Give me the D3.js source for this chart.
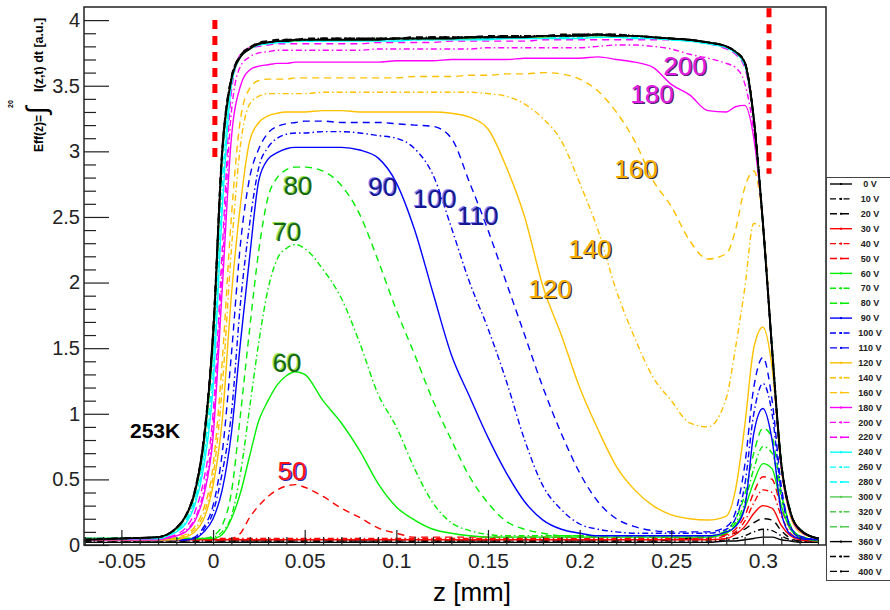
<!DOCTYPE html>
<html>
<head>
<meta charset="utf-8">
<script src="https://cdn.jsdelivr.net/npm/d3@7"></script>
<style>
  body { margin: 0; background: #fff; }
  svg { display: block; }
  text { font-family: "Liberation Sans", Arial, sans-serif; }
</style>
</head>
<body>
<div id="chart"></div>
<script>
var zGrid = [-0.07, -0.05, -0.03, -0.025, -0.02, -0.015, -0.01, -0.005, 0, 0.005,
  0.01, 0.015, 0.02, 0.025, 0.03, 0.035, 0.04, 0.045, 0.05, 0.06,
  0.07, 0.08, 0.09, 0.10, 0.11, 0.12, 0.13, 0.14, 0.15, 0.16,
  0.17, 0.18, 0.19, 0.20, 0.21, 0.22, 0.23, 0.24, 0.25, 0.26,
  0.27, 0.28, 0.285, 0.29, 0.295, 0.30, 0.305, 0.31, 0.315, 0.32,
  0.33];

var s0V = [0.02,0.02,0.02,0.02,0.02,0.02,0.02,0.02,0.02,0.02,
  0.02,0.02,0.02,0.02,0.02,0.02,0.02,0.02,0.02,0.02,
  0.02,0.02,0.02,0.02,0.02,0.02,0.02,0.02,0.02,0.02,
  0.02,0.02,0.02,0.02,0.02,0.02,0.02,0.02,0.02,0.02,
  0.02,0.03,0.03,0.04,0.05,0.06,0.06,0.04,0.03,0.02,
  0.02];
var s10V = [0.03,0.03,0.03,0.03,0.03,0.03,0.03,0.03,0.03,0.03,
  0.03,0.03,0.03,0.03,0.03,0.03,0.03,0.03,0.03,0.03,
  0.03,0.03,0.03,0.03,0.03,0.03,0.03,0.03,0.03,0.03,
  0.03,0.03,0.03,0.03,0.03,0.03,0.03,0.03,0.03,0.03,
  0.03,0.04,0.05,0.07,0.10,0.12,0.11,0.07,0.04,0.03,
  0.03];
var s20V = [0.03,0.03,0.03,0.03,0.03,0.03,0.03,0.03,0.03,0.03,
  0.03,0.03,0.03,0.03,0.03,0.03,0.03,0.03,0.03,0.03,
  0.03,0.03,0.03,0.03,0.03,0.03,0.03,0.03,0.03,0.03,
  0.03,0.03,0.03,0.03,0.03,0.03,0.03,0.03,0.04,0.05,
  0.06,0.08,0.09,0.12,0.17,0.20,0.19,0.11,0.05,0.03,
  0.03];
var s30V = [0.04,0.04,0.04,0.04,0.04,0.04,0.04,0.04,0.04,0.04,
  0.04,0.04,0.04,0.04,0.04,0.04,0.04,0.04,0.04,0.04,
  0.04,0.04,0.04,0.04,0.04,0.04,0.04,0.04,0.04,0.04,
  0.04,0.04,0.04,0.04,0.04,0.04,0.04,0.04,0.04,0.04,
  0.04,0.05,0.08,0.14,0.24,0.30,0.28,0.15,0.07,0.04,
  0.03];
var s40V = [0.05,0.05,0.05,0.05,0.05,0.05,0.05,0.05,0.05,0.05,
  0.05,0.05,0.05,0.05,0.05,0.05,0.05,0.05,0.05,0.05,
  0.05,0.05,0.05,0.05,0.05,0.05,0.05,0.05,0.05,0.05,
  0.05,0.05,0.05,0.05,0.05,0.05,0.05,0.05,0.05,0.05,
  0.05,0.07,0.10,0.18,0.32,0.42,0.40,0.22,0.09,0.05,
  0.03];
var s50V = [0.04,0.04,0.04,0.04,0.04,0.04,0.04,0.04,0.04,0.04,
  0.05,0.09,0.21,0.30,0.37,0.42,0.45,0.46,0.44,0.37,
  0.28,0.21,0.13,0.09,0.06,0.06,0.06,0.06,0.06,0.06,
  0.06,0.06,0.06,0.06,0.06,0.06,0.06,0.06,0.06,0.06,
  0.06,0.08,0.12,0.22,0.40,0.52,0.50,0.28,0.12,0.06,
  0.03];
var s60V = [0.05,0.05,0.05,0.05,0.05,0.05,0.05,0.05,0.05,0.08,
  0.20,0.40,0.68,0.95,1.10,1.22,1.29,1.32,1.30,1.10,
  0.93,0.72,0.47,0.29,0.19,0.12,0.09,0.07,0.06,0.06,
  0.06,0.06,0.06,0.06,0.06,0.06,0.06,0.06,0.06,0.06,
  0.06,0.09,0.15,0.28,0.48,0.62,0.58,0.30,0.12,0.06,
  0.03];
var s70V = [0.05,0.05,0.05,0.05,0.05,0.05,0.05,0.05,0.06,0.10,
  0.22,0.55,1.05,1.55,1.95,2.18,2.26,2.29,2.26,2.10,
  1.88,1.54,1.15,0.90,0.58,0.32,0.17,0.11,0.08,0.07,
  0.07,0.07,0.07,0.07,0.07,0.07,0.07,0.07,0.07,0.07,
  0.07,0.10,0.17,0.32,0.58,0.75,0.70,0.36,0.14,0.07,
  0.04];
var s80V = [0.05,0.05,0.05,0.05,0.05,0.05,0.05,0.05,0.07,0.15,
  0.40,1.00,1.65,2.25,2.65,2.80,2.86,2.88,2.88,2.85,
  2.74,2.52,2.17,1.79,1.45,1.10,0.80,0.52,0.32,0.18,
  0.12,0.09,0.07,0.07,0.07,0.07,0.07,0.07,0.07,0.07,
  0.07,0.11,0.20,0.38,0.70,0.89,0.82,0.40,0.15,0.07,
  0.04];
var s90V = [0.04,0.04,0.04,0.04,0.04,0.04,0.05,0.10,0.20,0.42,
  0.85,1.55,2.20,2.78,2.94,2.99,3.02,3.03,3.03,3.03,
  3.03,3.01,2.95,2.76,2.40,1.92,1.45,1.13,0.82,0.55,
  0.33,0.19,0.12,0.09,0.07,0.07,0.07,0.07,0.07,0.07,
  0.07,0.10,0.14,0.28,0.85,1.04,0.80,0.25,0.08,0.05,
  0.04];
var s100V = [0.04,0.04,0.04,0.04,0.04,0.04,0.05,0.12,0.25,0.55,
  1.00,1.85,2.45,2.88,3.03,3.10,3.13,3.14,3.14,3.15,
  3.15,3.14,3.12,3.10,3.02,2.82,2.42,2.00,1.65,1.25,
  0.80,0.45,0.27,0.16,0.12,0.10,0.09,0.09,0.09,0.09,
  0.09,0.12,0.20,0.45,1.00,1.23,1.00,0.40,0.13,0.06,
  0.04];
var s110V = [0.04,0.04,0.04,0.04,0.04,0.04,0.06,0.14,0.30,0.70,
  1.45,2.30,2.80,3.02,3.14,3.19,3.21,3.22,3.23,3.23,
  3.22,3.22,3.22,3.21,3.20,3.19,3.10,2.76,2.40,2.00,
  1.60,1.20,0.85,0.55,0.33,0.20,0.14,0.11,0.10,0.10,
  0.10,0.14,0.25,0.60,1.20,1.43,1.10,0.45,0.14,0.07,
  0.04];
var s120V = [0.04,0.04,0.04,0.04,0.04,0.06,0.10,0.20,0.45,0.95,
  1.90,2.60,3.08,3.22,3.27,3.29,3.30,3.30,3.30,3.31,
  3.31,3.30,3.30,3.30,3.30,3.30,3.29,3.26,3.17,2.88,
  2.50,1.97,1.60,1.20,0.88,0.60,0.42,0.30,0.23,0.20,
  0.19,0.22,0.42,0.90,1.50,1.66,1.35,0.58,0.22,0.10,
  0.05];
var s140V = [0.04,0.04,0.04,0.04,0.05,0.07,0.12,0.24,0.52,1.20,
  2.25,3.05,3.36,3.42,3.44,3.44,3.44,3.44,3.44,3.45,
  3.45,3.45,3.45,3.45,3.45,3.45,3.45,3.45,3.44,3.42,
  3.36,3.25,3.08,2.76,2.40,1.94,1.58,1.28,1.10,0.93,
  0.90,1.12,1.50,1.95,2.45,2.40,1.47,0.60,0.24,0.11,
  0.05];
var s160V = [0.04,0.04,0.04,0.04,0.06,0.08,0.14,0.28,0.60,1.40,
  2.50,3.25,3.48,3.54,3.55,3.55,3.55,3.56,3.56,3.56,
  3.56,3.56,3.56,3.56,3.57,3.57,3.57,3.58,3.58,3.59,
  3.59,3.60,3.59,3.55,3.46,3.30,3.08,2.78,2.58,2.32,
  2.18,2.22,2.40,2.72,2.85,2.45,1.47,0.60,0.24,0.11,
  0.05];
var s180V = [0.04,0.04,0.04,0.05,0.07,0.10,0.18,0.38,0.82,1.95,
  3.10,3.50,3.62,3.65,3.66,3.67,3.67,3.68,3.68,3.68,
  3.68,3.68,3.68,3.69,3.69,3.69,3.70,3.70,3.70,3.70,
  3.71,3.71,3.71,3.71,3.72,3.70,3.68,3.64,3.51,3.43,
  3.31,3.30,3.34,3.35,3.10,2.45,1.48,0.60,0.24,0.11,
  0.05];
var s200V = [0.05,0.05,0.05,0.06,0.07,0.11,0.20,0.42,0.90,2.10,
  3.30,3.65,3.72,3.75,3.76,3.77,3.77,3.77,3.77,3.77,
  3.77,3.77,3.78,3.78,3.78,3.78,3.78,3.78,3.79,3.79,
  3.79,3.79,3.79,3.79,3.80,3.81,3.81,3.80,3.78,3.74,
  3.71,3.67,3.64,3.52,3.15,2.45,1.48,0.60,0.24,0.11,
  0.05];
var s220V = [0.05,0.05,0.05,0.06,0.08,0.13,0.25,0.50,1.00,2.25,
  3.45,3.74,3.79,3.80,3.81,3.82,3.82,3.82,3.82,3.82,
  3.82,3.82,3.83,3.83,3.83,3.83,3.84,3.84,3.84,3.84,
  3.84,3.85,3.85,3.85,3.85,3.85,3.85,3.85,3.85,3.84,
  3.82,3.78,3.74,3.64,3.22,2.45,1.48,0.60,0.24,0.11,
  0.05];
var s240V = [0.05,0.05,0.05,0.07,0.10,0.16,0.30,0.60,1.20,2.55,
  3.50,3.72,3.78,3.81,3.82,3.83,3.83,3.84,3.84,3.84,
  3.84,3.84,3.84,3.84,3.85,3.85,3.85,3.85,3.85,3.86,
  3.86,3.86,3.86,3.86,3.87,3.87,3.86,3.86,3.85,3.84,
  3.82,3.79,3.75,3.66,3.24,2.45,1.49,0.62,0.25,0.12,
  0.05];
var s260V = [0.05,0.05,0.05,0.07,0.11,0.18,0.33,0.66,1.30,2.70,
  3.52,3.72,3.78,3.81,3.82,3.83,3.84,3.84,3.84,3.84,
  3.85,3.85,3.85,3.85,3.85,3.85,3.86,3.86,3.86,3.86,
  3.87,3.87,3.87,3.87,3.87,3.87,3.87,3.86,3.85,3.84,
  3.82,3.79,3.75,3.67,3.25,2.45,1.49,0.62,0.25,0.12,
  0.05];
var s280V = [0.05,0.05,0.05,0.07,0.11,0.19,0.35,0.70,1.40,2.85,
  3.53,3.72,3.78,3.81,3.82,3.83,3.84,3.84,3.84,3.85,
  3.85,3.85,3.85,3.85,3.86,3.86,3.86,3.86,3.86,3.87,
  3.87,3.87,3.87,3.88,3.88,3.88,3.87,3.87,3.86,3.85,
  3.83,3.80,3.76,3.67,3.25,2.45,1.49,0.62,0.25,0.12,
  0.05];
var s300V = [0.05,0.05,0.06,0.08,0.12,0.21,0.38,0.76,1.52,2.95,
  3.54,3.72,3.78,3.82,3.83,3.84,3.84,3.84,3.85,3.85,
  3.85,3.85,3.85,3.86,3.86,3.86,3.86,3.86,3.87,3.87,
  3.87,3.87,3.88,3.88,3.88,3.88,3.88,3.87,3.86,3.85,
  3.83,3.80,3.76,3.68,3.25,2.45,1.49,0.62,0.25,0.12,
  0.05];
var s320V = [0.05,0.05,0.06,0.08,0.12,0.21,0.39,0.78,1.55,2.96,
  3.54,3.72,3.78,3.82,3.83,3.84,3.84,3.85,3.85,3.85,
  3.85,3.85,3.86,3.86,3.86,3.86,3.86,3.87,3.87,3.87,
  3.87,3.88,3.88,3.88,3.88,3.88,3.88,3.87,3.86,3.85,
  3.83,3.80,3.76,3.68,3.25,2.45,1.49,0.62,0.25,0.12,
  0.05];
var s340V = [0.05,0.05,0.06,0.08,0.13,0.22,0.40,0.79,1.57,2.98,
  3.55,3.72,3.78,3.82,3.83,3.84,3.84,3.85,3.85,3.85,
  3.85,3.85,3.86,3.86,3.86,3.86,3.86,3.87,3.87,3.87,
  3.87,3.88,3.88,3.88,3.89,3.88,3.88,3.87,3.86,3.85,
  3.83,3.80,3.76,3.68,3.25,2.45,1.49,0.62,0.25,0.12,
  0.05];
var s360V = [0.04,0.05,0.06,0.08,0.13,0.22,0.40,0.80,1.60,3.00,
  3.55,3.72,3.78,3.82,3.83,3.84,3.84,3.85,3.85,3.85,
  3.85,3.85,3.85,3.86,3.86,3.86,3.86,3.87,3.87,3.87,
  3.87,3.88,3.88,3.88,3.89,3.88,3.88,3.87,3.86,3.85,
  3.83,3.80,3.76,3.68,3.25,2.45,1.49,0.62,0.25,0.12,
  0.05];
var s380V = [0.04,0.05,0.06,0.08,0.13,0.22,0.41,0.81,1.61,3.00,
  3.56,3.73,3.79,3.82,3.83,3.84,3.85,3.85,3.85,3.86,
  3.86,3.86,3.86,3.86,3.86,3.87,3.87,3.87,3.87,3.88,
  3.88,3.88,3.88,3.89,3.89,3.89,3.88,3.87,3.86,3.85,
  3.83,3.80,3.76,3.68,3.25,2.45,1.49,0.62,0.25,0.12,
  0.05];
var s400V = [0.04,0.05,0.06,0.08,0.13,0.22,0.41,0.82,1.62,3.01,
  3.56,3.73,3.79,3.83,3.84,3.85,3.85,3.85,3.86,3.86,
  3.86,3.86,3.86,3.86,3.87,3.87,3.87,3.87,3.88,3.88,
  3.88,3.88,3.89,3.89,3.89,3.89,3.88,3.87,3.86,3.85,
  3.83,3.80,3.76,3.68,3.25,2.45,1.49,0.62,0.25,0.12,
  0.05];

var legendLabels = ["0 V","10 V","20 V","30 V","40 V","50 V","60 V","70 V","80 V",
  "90 V","100 V","110 V","120 V","140 V","160 V","180 V","200 V","220 V",
  "240 V","260 V","280 V","300 V","320 V","340 V","360 V","380 V","400 V"];
var seriesValues = [s0V, s10V, s20V, s30V, s40V, s50V, s60V, s70V, s80V,
  s90V, s100V, s110V, s120V, s140V, s160V, s180V, s200V, s220V,
  s240V, s260V, s280V, s300V, s320V, s340V, s360V, s380V, s400V];

// curve labels written on the plot
var annoText = ["50","60","70","80","90","100","110","120","140","160","180","200"];
var annoZ = [0.0431, 0.0404, 0.0404, 0.0464, 0.0927, 0.1211, 0.1446, 0.1838, 0.2056, 0.2307, 0.2395, 0.2575];
var annoV = [0.57, 1.39, 2.39, 2.74, 2.73, 2.64, 2.51, 1.95, 2.26, 2.87, 3.44, 3.65];
var annoGroup = ["red","green","green","green","blue","blue","blue","orange","orange","orange","magenta","magenta"];

// red dashed boundary markers
var markerZ = [0.001, 0.3033];
var markerTop = [4.0, 4.09];
var markerBottom = [2.92, 2.83];

var yTicks = [0, 0.5, 1, 1.5, 2, 2.5, 3, 3.5, 4];
var xTicks = [-0.05, 0, 0.05, 0.1, 0.15, 0.2, 0.25, 0.3];

var groupColors = ["#000000", "#ff0000", "#00ee00", "#0000ff", "#ffc000", "#ff00ff", "#00ffff", "#55cc55", "#000000"];
var dashes = [null, "6,3,1.5,3", "7,5"];

var width = 890, height = 610;
var plot = {left: 84, right: 826, top: 7, bottom: 545};

var svg = d3.select("#chart").append("svg")
  .attr("width", width)
  .attr("height", height);

var x = d3.scaleLinear().domain([-0.0704, 0.3344]).range([plot.left, plot.right]);
var y = d3.scaleLinear().domain([0, 4.1]).range([plot.bottom, plot.top]);

svg.append("clipPath").attr("id", "clip")
  .append("rect")
  .attr("x", plot.left).attr("y", plot.top)
  .attr("width", plot.right - plot.left).attr("height", plot.bottom - plot.top);

var series = seriesValues.map(function(vals, i) {
  return {
    label: legendLabels[i],
    color: groupColors[Math.floor(i / 3)],
    dash: dashes[i % 3],
    width: i >= 24 ? 1.9 : 1.4,
    points: vals.map(function(v, j) { return {z: zGrid[j], v: v}; })
  };
});

var line = d3.line()
  .x(function(d) { return x(d.z); })
  .y(function(d) { return y(d.v); })
  .curve(d3.curveMonotoneX);

var curves = svg.append("g").attr("clip-path", "url(#clip)");
series.forEach(function(s) {
  curves.append("path")
    .datum(s.points)
    .attr("fill", "none")
    .attr("stroke", s.color)
    .attr("stroke-width", s.width)
    .attr("stroke-dasharray", s.dash)
    .attr("d", line);
});

// red dashed markers
markerZ.forEach(function(z, i) {
  svg.append("line")
    .attr("x1", x(z)).attr("x2", x(z))
    .attr("y1", y(markerTop[i])).attr("y2", y(markerBottom[i]))
    .attr("stroke", "#ff0000")
    .attr("stroke-width", 5)
    .attr("stroke-dasharray", "9,7");
});

// labels on curves
var annoStyle = {
  red:     {fill: "#ff1414", shade: "#2a2ab0", dx: 1.3, dy: 1.0},
  green:   {fill: "#156515", shade: "#8be04c", dx: -1.3, dy: -0.8},
  blue:    {fill: "#16168e", shade: "#8080ff", dx: -1.3, dy: -0.8},
  orange:  {fill: "#f7ad00", shade: "#333333", dx: 1.3, dy: 1.0},
  magenta: {fill: "#e21de2", shade: "#4a2070", dx: 1.3, dy: 1.0}
};
annoText.forEach(function(t, i) {
  var st = annoStyle[annoGroup[i]];
  var cx = x(annoZ[i]), cy = y(annoV[i]);
  svg.append("text")
    .attr("x", cx + st.dx).attr("y", cy + st.dy)
    .attr("dy", "0.36em")
    .attr("text-anchor", "middle")
    .style("font-size", "26px")
    .attr("fill", st.shade)
    .text(t);
  svg.append("text")
    .attr("x", cx).attr("y", cy)
    .attr("dy", "0.36em")
    .attr("text-anchor", "middle")
    .style("font-size", "26px")
    .attr("fill", st.fill)
    .text(t);
});

svg.append("text")
  .attr("x", x(-0.0316)).attr("y", y(0.876))
  .attr("dy", "0.36em")
  .attr("text-anchor", "middle")
  .style("font-size", "21px")
  .style("font-weight", "bold")
  .text("253K");

// axes, ticks pointing into the frame
var fmt = function(d) { return String(Math.round(d * 100) / 100); };

var yMinor = d3.range(0, 41).map(function(i) { return i / 10; })
  .filter(function(v) { return Math.abs(v * 2 - Math.round(v * 2)) > 1e-6; });
var xMinor = d3.range(-7, 34).map(function(i) { return i / 100; })
  .filter(function(v) { return Math.abs(v * 20 - Math.round(v * 20)) > 1e-6; });

var yAxis = svg.append("g")
  .attr("transform", "translate(" + plot.left + ",0)")
  .call(d3.axisLeft(y).tickValues(yTicks).tickSize(-25).tickSizeOuter(0).tickPadding(4).tickFormat(fmt));
svg.append("g")
  .attr("transform", "translate(" + plot.left + ",0)")
  .call(d3.axisLeft(y).tickValues(yMinor).tickSize(-12).tickFormat(""))
  .select(".domain").remove();

var xAxis = svg.append("g")
  .attr("transform", "translate(0," + plot.bottom + ")")
  .call(d3.axisBottom(x).tickValues(xTicks).tickSize(-15).tickSizeOuter(0).tickPadding(8).tickFormat(fmt));
svg.append("g")
  .attr("transform", "translate(0," + plot.bottom + ")")
  .call(d3.axisBottom(x).tickValues(xMinor).tickSize(-8).tickFormat(""))
  .select(".domain").remove();

svg.selectAll(".tick line").attr("stroke", "#222").attr("stroke-width", 1.2);
svg.selectAll(".domain").remove();
yAxis.selectAll("text").style("font-size", "20px").attr("fill", "#222");
xAxis.selectAll("text").style("font-size", "21px").attr("fill", "#222");

svg.append("rect")
  .attr("x", plot.left).attr("y", plot.top)
  .attr("width", plot.right - plot.left).attr("height", plot.bottom - plot.top)
  .attr("fill", "none")
  .attr("stroke", "#222")
  .attr("stroke-width", 1.5);

// axis titles
svg.append("text")
  .attr("x", 472).attr("y", 601)
  .attr("text-anchor", "middle")
  .style("font-size", "26px")
  .text("z [mm]");

var yt = svg.append("g").attr("transform", "translate(43,152) rotate(-90)");
yt.append("text").attr("x", 0).attr("y", 0)
  .style("font-size", "12px").style("font-weight", "bold").text("Eff(z)=");
yt.append("text").attr("x", 38).attr("y", 3)
  .style("font-size", "28px").text("\u222B");
yt.append("text").attr("x", 44).attr("y", -30)
  .style("font-size", "7px").style("font-weight", "bold").text("20");
yt.append("text").attr("x", 60).attr("y", 0)
  .style("font-size", "12.5px").style("font-weight", "bold").text("I(z,t) dt [a.u.]");

// legend
var lg = svg.append("g");
lg.append("rect")
  .attr("x", 826.5).attr("y", 177.5)
  .attr("width", 70).attr("height", 403)
  .attr("fill", "#fff")
  .attr("stroke", "#444");
series.forEach(function(s, i) {
  var ly = 184 + i * 14.9;
  lg.append("line")
    .attr("x1", 830).attr("x2", 852)
    .attr("y1", ly).attr("y2", ly)
    .attr("stroke", s.color)
    .attr("stroke-width", 1.4)
    .attr("stroke-dasharray", s.dash);
  lg.append("rect")
    .attr("x", 840).attr("y", ly - 1)
    .attr("width", 2).attr("height", 2)
    .attr("fill", s.color);
  lg.append("text")
    .attr("x", 870).attr("y", ly)
    .attr("dy", "0.35em")
    .attr("text-anchor", "middle")
    .style("font-size", "9px")
    .style("font-weight", "bold")
    .attr("fill", "#222")
    .text(s.label);
});
</script>
</body>
</html>
